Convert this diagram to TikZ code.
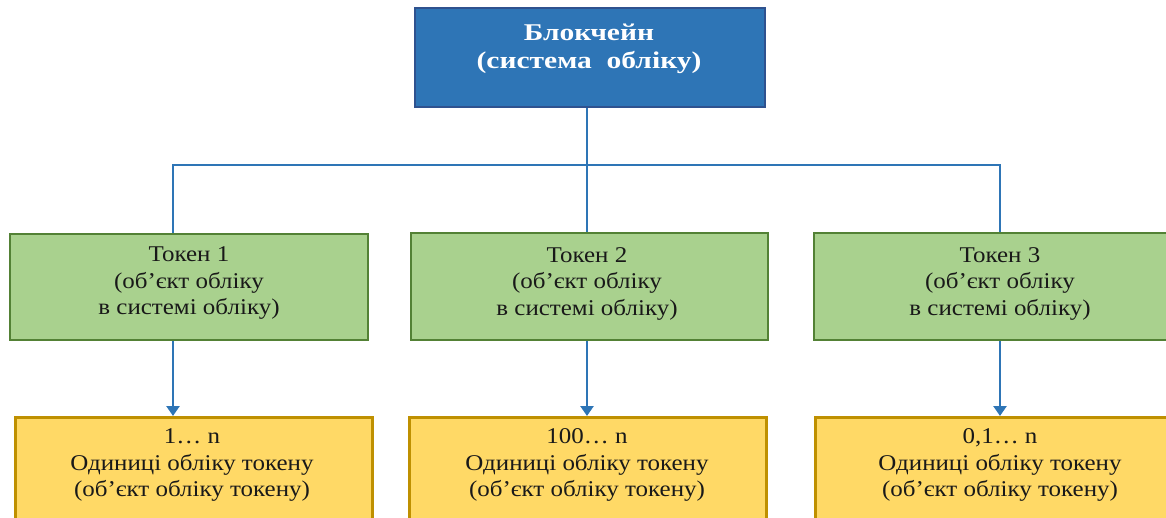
\documentclass[tikz,border=0pt]{standalone}
\usepackage{fontspec}
\setmainfont{Liberation Serif}
\newfontfamily\topfont[FakeStretch=1.23]{Liberation Serif}
\newfontfamily\bodyfont[FakeStretch=1.11]{Liberation Serif}
\usetikzlibrary{arrows.meta}
\definecolor{topfill}{HTML}{2E75B6}
\definecolor{topdraw}{HTML}{2F528F}
\definecolor{greenfill}{HTML}{A9D18E}
\definecolor{greendraw}{HTML}{538135}
\definecolor{yelfill}{HTML}{FFD966}
\definecolor{yeldraw}{HTML}{BF9000}
\definecolor{linec}{HTML}{2E75B6}
\tikzset{
  boxbase/.style={rectangle, inner sep=0pt, line width=2.5pt},
  topbox/.style={boxbase, fill=topfill, draw=topdraw},
  tokbox/.style={boxbase, fill=greenfill, draw=greendraw},
  unitbox/.style={boxbase, fill=yelfill, draw=yeldraw},
  toptext/.style={align=center, text=white, font=\topfont\fontsize{24}{28}\selectfont\bfseries, inner sep=0pt},
  boxtext/.style={align=center, text=black!90, font=\bodyfont\fontsize{22.5}{26.5}\selectfont, inner sep=0pt},
  conn/.style={draw=linec, line width=2.5pt},
  arr/.style={conn, -{Triangle[length=10pt,width=13pt]}},
}
\begin{document}
\begin{tikzpicture}[x=1pt,y=-1pt]
\useasboundingbox (0,0) rectangle (1166,518);
\clip (0,0) rectangle (1166,518);
% top
\node[topbox, minimum width=350pt, minimum height=99pt] (b0) at (590,57.5) {};
\node[toptext] (t0) at (589,49) {Блокчейн\\(система\ \ обліку)};
% tokens
\node[tokbox, minimum width=358pt, minimum height=106pt] (k1) at (189,287) {};
\node[tokbox, minimum width=357pt, minimum height=107pt] (k2) at (589.5,286.5) {};
\node[tokbox, minimum width=362pt, minimum height=107pt] (k3) at (995,286.5) {};
\node[boxtext] (kt1) at (189,283.5) {Токен 1\\(об’єкт обліку\\в системі обліку)};
\node[boxtext] (kt2) at (587,283.5) {Токен 2\\(об’єкт обліку\\в системі обліку)};
\node[boxtext] (kt3) at (1000,283.5) {Токен 3\\(об’єкт обліку\\в системі обліку)};
% units
\node[unitbox, minimum width=357pt, minimum height=140pt, anchor=north west] (u1) at (14,416) {};
\node[unitbox, minimum width=357pt, minimum height=140pt, anchor=north west] (u2) at (408,416) {};
\node[unitbox, minimum width=362pt, minimum height=140pt, anchor=north west] (u3) at (814,416) {};
\node[boxtext] (ut1) at (192,465) {1… n\\Одиниці обліку токену\\(об’єкт обліку токену)};
\node[boxtext] (ut2) at (587,465) {100… n\\Одиниці обліку токену\\(об’єкт обліку токену)};
\node[boxtext] (ut3) at (1000,465) {0,1… n\\Одиниці обліку токену\\(об’єкт обліку токену)};
% connectors
\coordinate (hl) at (173,165);
\coordinate (hm) at (587,165);
\coordinate (hr) at (1000,165);
\draw[conn] (b0.south -| hm) -- (hm);
\draw[conn] (hl |- k1.north) -- (hl) -- (hr) -- (hr |- k3.north);
\draw[conn] (hm) -- (hm |- k2.north);
\draw[arr] (hl |- k1.south) -- (hl |- u1.north);
\draw[arr] (hm |- k2.south) -- (hm |- u2.north);
\draw[arr] (hr |- k3.south) -- (hr |- u3.north);
\end{tikzpicture}
\end{document}
